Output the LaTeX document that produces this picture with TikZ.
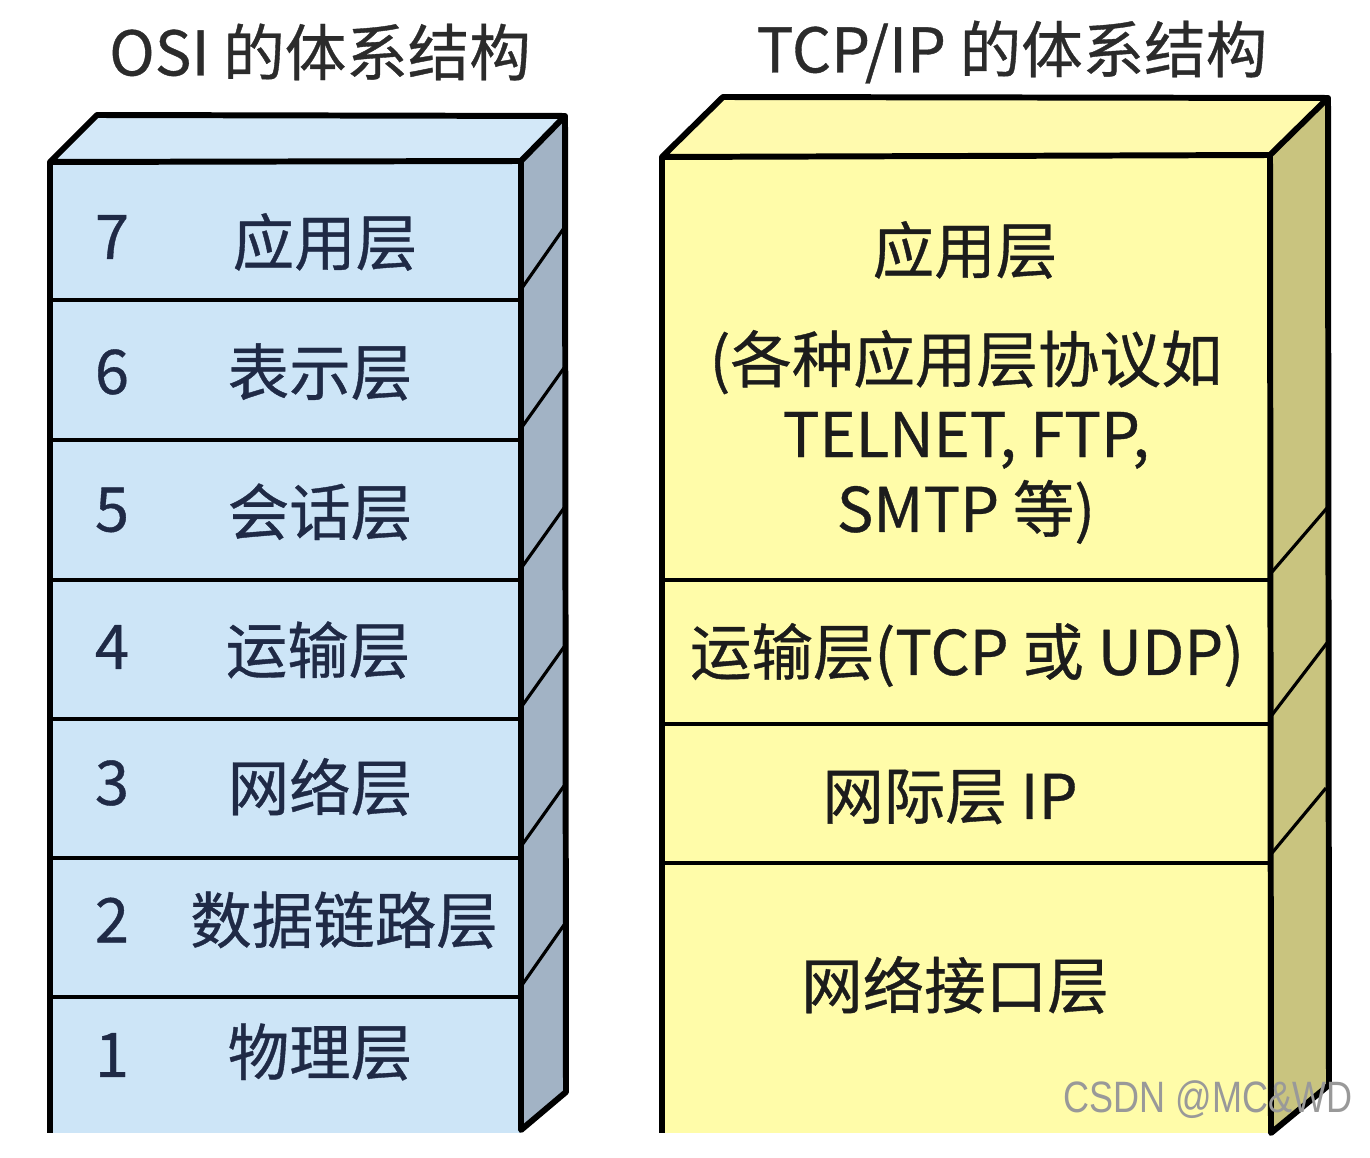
\documentclass[tikz,border=0pt]{standalone}
\usepackage{fontspec}
\setmainfont{Noto Sans CJK SC}[FakeBold=0.6]
\newfontfamily\wmfont{Liberation Sans}
\definecolor{osifront}{HTML}{CDE5F7}
\definecolor{ositop}{HTML}{D3E8F8}
\definecolor{osiside}{HTML}{A2B3C5}
\definecolor{tcpfront}{HTML}{FFFCA9}
\definecolor{tcptop}{HTML}{FFFAAE}
\definecolor{tcpside}{HTML}{C9C47F}
\definecolor{osiink}{HTML}{1F2A46}
\definecolor{tcpink}{HTML}{1C1C1C}
\definecolor{titleink}{HTML}{2B2B2B}

\begin{document}
\begin{tikzpicture}[x=1cm, y=-1cm, line join=round,
  title/.style={font=\fontsize{17.5pt}{21pt}\selectfont, text=titleink, inner sep=0pt},
  ositext/.style={font=\fontsize{17.5pt}{21pt}\selectfont, text=osiink, inner sep=0pt},
  tcptext/.style={font=\fontsize{17.5pt}{21pt}\selectfont, text=tcpink, inner sep=0pt},
  rim/.style={line width=1.7pt}, sepline/.style={line width=1.1pt},
  sideline/.style={line width=0.9pt}]
\useasboundingbox (0,0) rectangle (13.70,11.58);

\node[title] (osititle) at (3.20,0.52) {OSI 的体系结构};
\node[title] (tcptitle) at (10.12,0.52) {TCP/IP 的体系结构};

% OSI block: front, top and side faces, seven layers.
\fill[osifront] (0.50,1.62) rectangle (5.21,11.33);
\fill[ositop] (0.50,1.62) -- (0.97,1.15) -- (5.65,1.16) -- (5.21,1.61) -- cycle;
\fill[osiside] (5.21,1.61) -- (5.65,1.16) -- (5.66,10.92) -- (5.21,11.30) -- cycle;
\draw[sepline] (0.50,3.00) -- (5.21,3.00) (0.50,4.40) -- (5.21,4.40)
  (0.50,5.80) -- (5.21,5.80) (0.50,7.19) -- (5.21,7.19)
  (0.50,8.58) -- (5.21,8.58) (0.50,9.97) -- (5.21,9.97);
\draw[sideline] (5.22,2.88) -- (5.64,2.28) (5.22,4.27) -- (5.64,3.68)
  (5.22,5.67) -- (5.64,5.08) (5.22,7.06) -- (5.64,6.47)
  (5.22,8.45) -- (5.64,7.86) (5.22,9.85) -- (5.64,9.25);
\draw[rim] (0.50,11.33) -- (0.50,1.62) -- (0.97,1.15) -- (5.65,1.16)
  -- (5.66,10.92) -- (5.21,11.30) -- (5.21,1.61) -- (0.50,1.62)
  (5.21,1.61) -- (5.65,1.16);

\node[ositext] (n7) at (1.12,2.37) {7};
\node[ositext] (n6) at (1.12,3.72) {6};
\node[ositext] (n5) at (1.12,5.10) {5};
\node[ositext] (n4) at (1.12,6.47) {4};
\node[ositext] (n3) at (1.12,7.83) {3};
\node[ositext] (n2) at (1.12,9.20) {2};
\node[ositext] (n1) at (1.12,10.55) {1};
\node[ositext] (app) at (3.25,2.42) {应用层};
\node[ositext] (pres) at (3.20,3.72) {表示层};
\node[ositext] (sess) at (3.20,5.12) {会话层};
\node[ositext] (trans) at (3.18,6.50) {运输层};
\node[ositext] (net) at (3.20,7.87) {网络层};
\node[ositext] (link) at (3.44,9.20) {数据链路层};
\node[ositext] (phys) at (3.20,10.52) {物理层};

% TCP/IP block: four layers, the top one taller.
\fill[tcpfront] (6.62,1.57) rectangle (12.70,11.33);
\fill[tcptop] (6.62,1.57) -- (7.23,0.97) -- (13.28,0.98) -- (12.70,1.55) -- cycle;
\fill[tcpside] (12.70,1.55) -- (13.28,0.98) -- (13.29,10.85) -- (12.71,11.33) -- cycle;
\draw[sepline] (6.62,5.80) -- (12.70,5.80) (6.62,7.24) -- (12.70,7.24)
  (6.62,8.63) -- (12.70,8.63);
\draw[sideline] (12.72,5.72) -- (13.27,5.08) (12.72,7.15) -- (13.27,6.43)
  (12.72,8.53) -- (13.26,7.88);
\draw[rim] (6.62,11.33) -- (6.62,1.57) -- (7.23,0.97) -- (13.28,0.98)
  -- (13.29,10.85) -- (12.71,11.33) -- (12.70,1.55) -- (6.62,1.57)
  (12.70,1.55) -- (13.28,0.98);

\node[tcptext] (tapp) at (9.65,2.50) {应用层};
\node[tcptext, align=center, font=\fontsize{17.5pt}{21.3pt}\selectfont] (tproto) at (9.66,4.37)
  {(各种应用层协议如\\TELNET, FTP,\\SMTP 等)};
\node[tcptext] (ttrans) at (9.67,6.55) {运输层(TCP 或 UDP)};
\node[tcptext] (tnet) at (9.50,7.97) {网际层 IP};
\node[tcptext] (tlink) at (9.55,9.85) {网络接口层};

\node[font=\wmfont\fontsize{12.5pt}{14pt}\selectfont, text=black!40, xscale=0.82,
  inner sep=0pt] (mark) at (12.08,11.00) {CSDN @MC\&WD};
\end{tikzpicture}
\end{document}
